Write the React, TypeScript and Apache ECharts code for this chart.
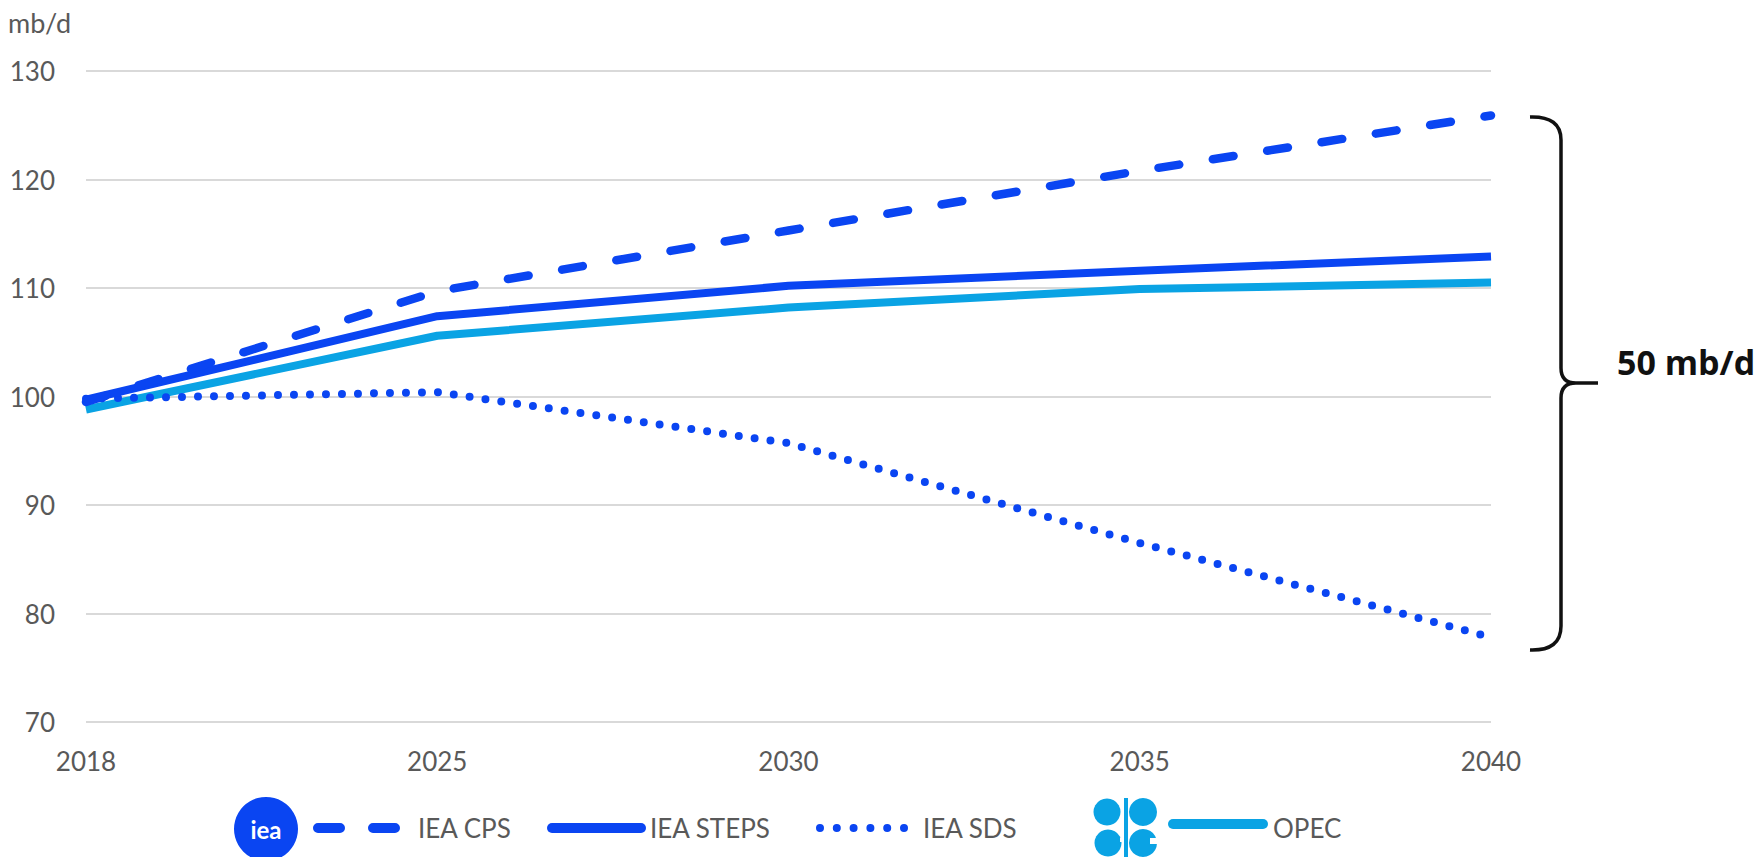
import React, { useEffect, useRef } from "react";
import * as echarts from "echarts";

const years = ["2018", "2025", "2030", "2035", "2040"];
const cpsValues = [99.5, 109.7, 115.3, 120.8, 125.9];
const stepsValues = [99.7, 107.4, 110.2, 111.6, 112.9];
const sdsValues = [99.8, 100.4, 95.7, 86.5, 77.8];
const opecValues = [98.8, 105.6, 108.2, 109.9, 110.5];
const yMin = 70;
const yMax = 130;
const yStep = 10;

const DARK = "#0A45F2";
const LIGHT = "#0AA3E4";
const GRAY = "#595959";
const FONT = "Lato";

const bracePath =
  "M1530 117 Q1561 116 1561 140 L1561 368 Q1561 383 1576 383 L1598 383 M1576 383 Q1561 383 1561 398 L1561 626 Q1561 651 1530 650";

let registered = false;
function registerShapes() {
  if (registered) return;
  echarts.graphic.registerShape("brace", echarts.graphic.extendPath(bracePath, {}) as any);
  registered = true;
}

export default function App() {
  const ref = useRef<HTMLDivElement>(null);
  useEffect(() => {
    document.body.style.margin = "0";
    registerShapes();
    const chart = echarts.init(ref.current!, null, { renderer: "svg" });
    const legendY = 828;
    const legendText = (x: number, text: string) => ({
      type: "text",
      x,
      y: legendY,
      style: { text, fill: GRAY, font: `26px ${FONT}`, textVerticalAlign: "middle" },
    });
    const option: any = {
      animation: false,
      backgroundColor: "#ffffff",
      grid: { left: 86, right: 267, top: 71, bottom: 135 },
      xAxis: {
        type: "category",
        data: years,
        boundaryGap: false,
        axisLine: { show: false },
        axisTick: { show: false },
        axisLabel: { color: GRAY, fontFamily: FONT, fontSize: 26, margin: 26 },
      },
      yAxis: {
        type: "value",
        min: yMin,
        max: yMax,
        interval: yStep,
        axisLine: { show: false },
        axisTick: { show: false },
        axisLabel: { color: GRAY, fontFamily: FONT, fontSize: 26, margin: 31 },
        splitLine: { lineStyle: { color: "#d9d9d9", width: 2 } },
      },
      series: [
        {
          name: "OPEC",
          type: "line",
          data: opecValues,
          symbol: "none",
          lineStyle: { color: LIGHT, width: 8 },
        },
        {
          name: "IEA SDS",
          type: "line",
          data: sdsValues,
          symbol: "none",
          lineStyle: { color: DARK, width: 8, type: [0, 16], cap: "round" },
        },
        {
          name: "IEA STEPS",
          type: "line",
          data: stepsValues,
          symbol: "none",
          lineStyle: { color: DARK, width: 8 },
        },
        {
          name: "IEA CPS",
          type: "line",
          data: cpsValues,
          symbol: "none",
          lineStyle: { color: DARK, width: 8.5, type: [21, 34], cap: "round" },
        },
      ],
      graphic: [
        {
          type: "text",
          x: 8,
          y: 22,
          style: { text: "mb/d", fill: GRAY, font: `27px ${FONT}`, textVerticalAlign: "middle" },
        },
        {
          type: "brace",
          x: 0,
          y: 0,
          style: { stroke: "#111111", fill: "none", lineWidth: 3.5 },
        },
        {
          type: "text",
          x: 1617,
          y: 362,
          style: {
            text: "50 mb/d",
            fill: "#111111",
            font: `bold 34px 'Open Sans'`,
            textVerticalAlign: "middle",
          },
        },
        // IEA logo
        {
          type: "circle",
          shape: { cx: 266, cy: 829, r: 32 },
          style: { fill: DARK },
        },
        {
          type: "text",
          x: 266,
          y: 829,
          style: {
            text: "iea",
            fill: "#ffffff",
            font: `bold 24px ${FONT}`,
            textAlign: "center",
            textVerticalAlign: "middle",
          },
        },
        {
          type: "line",
          shape: { x1: 318, y1: legendY, x2: 397, y2: legendY },
          style: { stroke: DARK, lineWidth: 10, lineDash: [22, 33], lineCap: "round" },
        },
        legendText(418, "IEA CPS"),
        {
          type: "line",
          shape: { x1: 552, y1: legendY, x2: 641, y2: legendY },
          style: { stroke: DARK, lineWidth: 10, lineCap: "round" },
        },
        legendText(650, "IEA STEPS"),
        {
          type: "line",
          shape: { x1: 820, y1: legendY, x2: 905, y2: legendY },
          style: { stroke: DARK, lineWidth: 8, lineDash: [0, 16.8], lineCap: "round" },
        },
        legendText(923, "IEA SDS"),
        // OPEC logo
        { type: "circle", shape: { cx: 1107, cy: 812, r: 13.5 }, style: { fill: LIGHT } },
        { type: "circle", shape: { cx: 1143, cy: 812, r: 14 }, style: { fill: LIGHT } },
        { type: "circle", shape: { cx: 1108, cy: 843, r: 13.5 }, style: { fill: LIGHT } },
        { type: "circle", shape: { cx: 1143, cy: 843, r: 14 }, style: { fill: LIGHT } },
        { type: "rect", shape: { x: 1120, y: 838, width: 8, height: 4 }, style: { fill: "#ffffff" } },
        { type: "rect", shape: { x: 1150, y: 838, width: 9, height: 6 }, style: { fill: "#ffffff" } },
        { type: "rect", shape: { x: 1124, y: 798, width: 4, height: 60 }, style: { fill: LIGHT } },
        {
          type: "line",
          shape: { x1: 1173, y1: legendY - 4, x2: 1263, y2: legendY - 4 },
          style: { stroke: LIGHT, lineWidth: 10, lineCap: "round" },
        },
        legendText(1273, "OPEC"),
      ],
    };
    chart.setOption(option);
    return () => chart.dispose();
  }, []);
  return <div ref={ref} style={{ width: 1758, height: 857 }} />;
}
